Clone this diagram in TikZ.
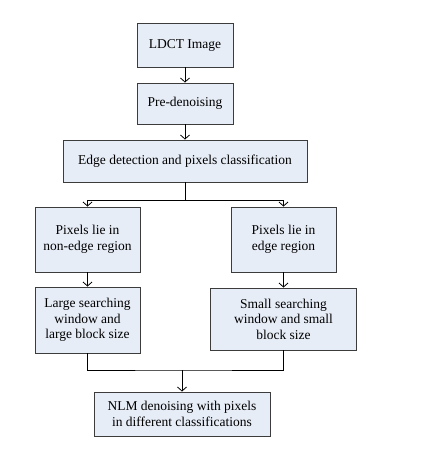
\documentclass[tikz,border=0pt]{standalone}
\usepackage{fontspec}
\setmainfont{Liberation Serif}
\usetikzlibrary{arrows.meta, positioning}

\definecolor{boxfill}{RGB}{231,237,247}
\definecolor{boxline}{RGB}{60,60,60}

\tikzset{
  flowbox/.style={draw=boxline, fill=boxfill, line width=0.9pt, align=center,
                  inner sep=2pt, font=\fontsize{13.5}{15.5}\selectfont},
  link/.style={line width=0.8pt, black},
  arr/.style={link, -{Straight Barb[length=4pt, width=9pt]}}
}

\begin{document}
\begin{tikzpicture}[x=1pt, y=-1pt]
  \useasboundingbox (0,0) rectangle (424,456);
  % top chain
  \node[flowbox, minimum width=96pt, minimum height=44pt] (ldct) at (185,45) {LDCT Image};
  \node[flowbox, minimum width=96pt, minimum height=41pt] (pre) at (185,103.5) {Pre-denoising};
  \node[flowbox, minimum width=244pt, minimum height=42pt] (edge) at (185,161)
    {Edge detection and pixels classification};
  % two branches
  \node[flowbox, minimum width=105pt, minimum height=65pt] (nonedge) at (87.5,239.5)
    {Pixels lie in\\non-edge region};
  \node[flowbox, minimum width=105pt, minimum height=65pt] (edgereg) at (283.5,239.5)
    {Pixels lie in\\edge region};
  \node[flowbox, minimum width=105pt, minimum height=66pt] (large) at (87.5,320)
    {Large searching\\window and\\large block size};
  \node[flowbox, minimum width=146pt, minimum height=62pt] (small) at (283.5,319)
    {Small searching\\window and small\\block size};
  % merge
  \node[flowbox, minimum width=176pt, minimum height=44pt] (nlm) at (182,414)
    {NLM denoising with pixels\\in different classifications};
  \coordinate (split) at (185,200);
  \coordinate (join) at (182,370);

  \draw[arr] (ldct) -- (pre);
  \draw[arr] (pre) -- (edge);
  \draw[link] (edge) -- (split);
  \draw[arr] (split) -| (nonedge);
  \draw[arr] (split) -| (edgereg);
  \draw[arr] (nonedge) -- (large);
  \draw[arr] (edgereg) -- (edgereg |- small.north);
  \draw[link] (large.south) |- (join) -| (edgereg |- small.south);
  \draw[arr] (join) -- (nlm);
\end{tikzpicture}
\end{document}
